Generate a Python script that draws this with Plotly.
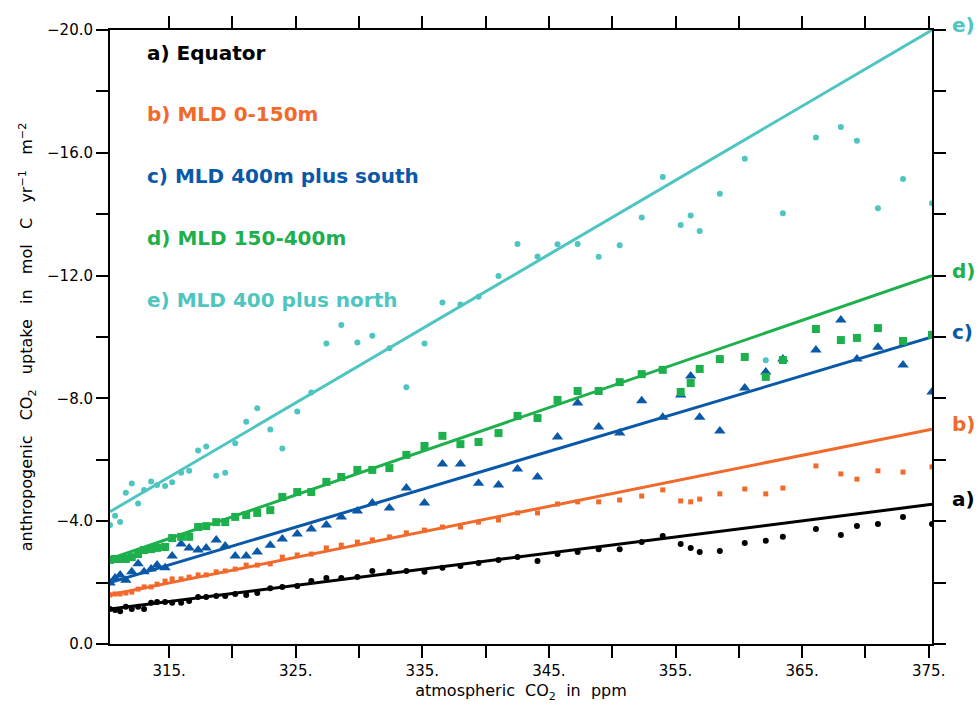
import plotly.graph_objects as go

# Atmospheric CO2 (ppm) for each annual value
co2 = [310.33, 310.73, 311.13, 311.58, 312.05, 312.55, 313.02, 313.58, 314.05, 314.68,
       315.24, 315.95, 316.58, 317.29, 317.93, 318.72, 319.43, 320.22, 321.09, 321.96,
       322.99, 323.94, 325.12, 326.23, 327.42, 328.60, 329.87, 331.05, 332.40, 333.74,
       335.17, 336.59, 338.01, 339.44, 341.02, 342.52, 344.10, 345.68, 347.27, 348.93,
       350.59, 352.33, 353.99, 355.41, 356.20, 356.91, 358.50, 360.47, 362.13, 363.48,
       366.09, 368.06, 369.33, 370.99, 372.97, 375.26]

# Anthropogenic CO2 uptake (mol C yr-1 m-2), one list per region
equator = [-1.14, -1.11, -1.07, -1.21, -1.14, -1.21, -1.14, -1.34, -1.37, -1.37,
           -1.34, -1.34, -1.40, -1.53, -1.53, -1.56, -1.56, -1.63, -1.60, -1.66,
           -1.82, -1.86, -1.89, -2.05, -2.15, -2.15, -2.18, -2.38, -2.35, -2.38,
           -2.35, -2.48, -2.54, -2.64, -2.74, -2.83, -2.70, -2.93, -3.00, -3.09,
           -3.09, -3.32, -3.52, -3.26, -3.13, -3.00, -3.03, -3.29, -3.36, -3.49,
           -3.75, -3.55, -3.84, -3.91, -4.14, -3.91]
mld_0_150 = [-1.60, -1.63, -1.63, -1.66, -1.69, -1.79, -1.86, -1.86, -1.95, -2.05,
             -2.12, -2.12, -2.18, -2.25, -2.25, -2.35, -2.38, -2.44, -2.57, -2.57,
             -2.61, -2.83, -2.90, -2.93, -3.13, -3.22, -3.32, -3.39, -3.49, -3.62,
             -3.71, -3.81, -3.81, -3.97, -4.04, -4.27, -4.27, -4.56, -4.63, -4.63,
             -4.69, -4.82, -5.02, -4.66, -4.63, -4.72, -4.89, -5.05, -4.89, -5.08,
             -5.80, -5.54, -5.37, -5.64, -5.60, -5.77]
mld_400_south = [-1.99, -2.15, -2.25, -2.08, -2.35, -2.61, -2.35, -2.44, -2.57, -2.48,
                 -2.87, -3.26, -3.13, -3.06, -3.13, -3.39, -3.19, -2.87, -2.87, -3.00,
                 -3.22, -3.42, -3.58, -3.75, -3.88, -4.14, -4.33, -4.59, -4.43, -5.08,
                 -4.59, -5.86, -5.86, -5.24, -5.18, -5.70, -5.44, -6.74, -7.85, -7.07,
                 -6.87, -7.92, -7.39, -8.11, -8.73, -7.39, -6.94, -8.34, -8.86, -9.28,
                 -9.58, -10.55, -9.28, -9.67, -9.09, -8.21]
mld_150_400 = [-2.74, -2.77, -2.77, -2.77, -2.83, -2.93, -3.06, -3.09, -3.13, -3.16,
               -3.45, -3.49, -3.49, -3.81, -3.84, -3.97, -3.97, -4.14, -4.20, -4.27,
               -4.36, -4.79, -4.95, -4.95, -5.28, -5.44, -5.67, -5.67, -5.73, -6.16,
               -6.45, -6.78, -6.51, -6.58, -6.87, -7.43, -7.36, -7.95, -8.24, -8.24,
               -8.53, -8.79, -8.93, -8.21, -8.50, -8.96, -9.28, -9.35, -8.70, -9.25,
               -10.26, -9.90, -9.97, -10.29, -9.87, -10.07]
mld_400_north = [-3.88, -4.18, -3.97, -4.93, -5.23, -4.58, -5.02, -5.29, -5.18, -5.15,
                 -5.27, -5.58, -5.64, -6.30, -6.43, -5.48, -5.58, -6.54, -7.24, -7.68,
                 -6.99, -6.37, -7.57, -8.19, -9.79, -10.39, -9.82, -10.04, -9.63, -8.36,
                 -9.79, -11.12, -11.06, -11.31, -11.99, -13.03, -12.62, -13.02, -13.03, -12.61,
                 -12.99, -13.89, -15.21, -13.65, -13.96, -13.45, -14.67, -15.81, -9.24, -14.03,
                 -16.50, -16.84, -16.39, -14.19, -15.15, -14.36]

# Linear trend lines: values at the first and last CO2 level
fit_co2 = [310.33, 375.26]
fit_equator = [-1.14, -4.55]
fit_mld_0_150 = [-1.60, -7.00]
fit_mld_400_south = [-2.00, -10.00]
fit_mld_150_400 = [-2.77, -12.00]
fit_mld_400_north = [-4.31, -20.00]

names = ["a) Equator", "b) MLD 0-150m", "c) MLD 400m plus south",
         "d) MLD 150-400m", "e) MLD 400 plus north"]
tags = ["a)", "b)", "c)", "d)", "e)"]
x_label_vals = [315, 325, 335, 345, 355, 365, 375]
x_label_text = ["315.", "325.", "335.", "345.", "355.", "365.", "375."]
x_minor_vals = [320, 330, 340, 350, 360, 370]
y_label_vals = [-20, -16, -12, -8, -4, 0]
y_label_text = ["\u221220.0", "\u221216.0", "\u221212.0", "\u22128.0", "\u22124.0", "0.0"]
y_minor_vals = [-18, -14, -10, -6, -2]

series = [equator, mld_0_150, mld_400_south, mld_150_400, mld_400_north]
fits = [fit_equator, fit_mld_0_150, fit_mld_400_south, fit_mld_150_400, fit_mld_400_north]
colors = ["#000000", "#f26a2b", "#0a58a8", "#1db04c", "#4ec5c0"]
symbols = ["circle", "square", "triangle-up", "square", "circle"]
sizes = [6, 5, 10, 8, 6]

FONT = "DejaVu Sans"
SP = "\u00a0"

fig = go.Figure()
for vals, fit, col, sym, sz in zip(series, fits, colors, symbols, sizes):
    fig.add_trace(go.Scatter(x=co2, y=vals, mode="markers",
                             marker=dict(color=col, symbol=sym, size=sz, line=dict(width=0)),
                             showlegend=False))
    fig.add_trace(go.Scatter(x=fit_co2, y=fit, mode="lines",
                             line=dict(color=col, width=3), showlegend=False))

# Region labels inside the plot
for i, (name, col) in enumerate(zip(names, colors)):
    fig.add_annotation(x=0.043, y=0.963 - i * 0.1005, xref="paper", yref="paper",
                       text="<b>" + name + "</b>", showarrow=False,
                       xanchor="left", yanchor="middle",
                       font=dict(family=FONT, size=20, color=col))

# Tags at the right-hand end of each trend line
for tag, fit, col in zip(tags, fits, colors):
    fig.add_annotation(x=1, y=fit[-1], xref="paper", yref="y",
                       text="<b>" + tag + "</b>", showarrow=False,
                       xanchor="left", yanchor="middle", xshift=18, yshift=5,
                       font=dict(family=FONT, size=20, color=col))

axis_common = dict(showline=True, linecolor="black", linewidth=2, mirror="ticks",
                   ticks="outside", ticklen=12, tickwidth=2, tickcolor="black",
                   showgrid=False, zeroline=False,
                   tickfont=dict(family=FONT, size=15, color="black"))

fig.update_xaxes(range=[fit_co2[0], fit_co2[-1]], tickmode="array",
                 tickvals=x_label_vals, ticktext=x_label_text,
                 minor=dict(tickmode="array", tickvals=x_minor_vals, ticks="outside",
                            ticklen=12, tickwidth=2, tickcolor="black", showgrid=False),
                 title=dict(text="atmospheric" + SP * 2 + "CO<sub>2</sub>" + SP * 2 + "in" + SP * 2 + "ppm",
                            font=dict(family=FONT, size=16, color="black"), standoff=6),
                 **axis_common)
fig.update_yaxes(range=[0, -20], tickmode="array",
                 tickvals=y_label_vals, ticktext=y_label_text,
                 minor=dict(tickmode="array", tickvals=y_minor_vals, ticks="outside",
                            ticklen=12, tickwidth=2, tickcolor="black", showgrid=False),
                 title=dict(text=(SP * 3).join(["anthropogenic", "CO<sub>2</sub>", "uptake", "in",
                                                "mol", "C", "yr<sup>\u22121</sup>", "m<sup>\u22122</sup>"]),
                            font=dict(family=FONT, size=16, color="black"), standoff=10),
                 **axis_common)

fig.update_layout(width=979, height=711,
                  margin=dict(l=110, r=47, t=30, b=67, autoexpand=False),
                  plot_bgcolor="white", paper_bgcolor="white")

fig.write_html("out.html")
